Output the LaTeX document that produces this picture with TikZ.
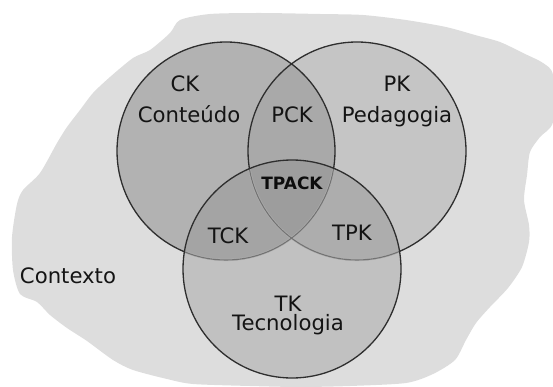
\documentclass[tikz,border=0pt]{standalone}
\usepackage{fontspec}
\setmainfont{DejaVu Sans}
\begin{document}
\begin{tikzpicture}[x=1pt,y=-1pt,
  lbl/.style={inner sep=0pt, text=black!92, font=\fontsize{21.2}{23}\selectfont},
  smalllbl/.style={inner sep=0pt, text=black!95, font=\fontsize{17}{19}\selectfont\bfseries},
  outline/.style={draw=black!82, line width=1.3pt},
  inner/.style={draw=black!55, line width=1.1pt}]
\definecolor{bgc}{HTML}{DDDDDD}
\definecolor{ckc}{HTML}{B2B2B2}
\definecolor{pkc}{HTML}{C5C5C5}
\definecolor{tkc}{HTML}{C1C1C1}
\definecolor{pckc}{HTML}{A9A9A9}
\definecolor{tckc}{HTML}{A4A4A4}
\definecolor{tpkc}{HTML}{ADADAD}
\definecolor{tpackc}{HTML}{9D9D9D}
\useasboundingbox (0,0) rectangle (553,387);
% context blob
\fill[bgc] plot[smooth cycle, tension=0.45] coordinates {
(180,20) (210,14) (260,13) (320,14) (363,15) (406,20) (446,27) (475,35)
(500,42) (523,53) (543,63) (553,75) (553,122) (540,137) (530,152) (527,175)
(524,200) (529,225) (529,242) (522,267) (508,288) (490,307) (476,323)
(466,340) (455,360) (433,374) (406,383) (350,386) (300,387) (250,386)
(193,384) (167,379) (133,370) (113,360) (87,341) (67,328) (50,315)
(37,302) (20,294) (13,270) (12,237) (17,204) (23,190) (40,173) (57,143)
(67,127) (80,110) (93,93) (110,77) (133,58) (150,50) (170,33)};
% circle centres
\coordinate (ckc) at (226,151);
\coordinate (pkc) at (357,151);
\coordinate (tkc) at (292,269);
\def\rad{109}
% single fills
\fill[ckc] (ckc) circle (\rad);
\fill[pkc] (pkc) circle (\rad);
\fill[tkc] (tkc) circle (\rad);
% pairwise
\begin{scope}\clip (ckc) circle (\rad); \fill[pckc] (pkc) circle (\rad); \end{scope}
\begin{scope}\clip (ckc) circle (\rad); \fill[tckc] (tkc) circle (\rad); \end{scope}
\begin{scope}\clip (pkc) circle (\rad); \fill[tpkc] (tkc) circle (\rad); \end{scope}
\begin{scope}\clip (ckc) circle (\rad); \clip (pkc) circle (\rad); \fill[tpackc] (tkc) circle (\rad); \end{scope}
% outlines
\draw[outline] (ckc) circle (\rad);
\draw[outline] (pkc) circle (\rad);
\begin{scope}\clip (tkc) circle (\rad);
  \draw[draw=tkc!60!tckc, line width=2.2pt] (ckc) circle (\rad);
  \draw[draw=tkc!60!tckc, line width=2.2pt] (pkc) circle (\rad);
  \draw[inner] (ckc) circle (\rad);
  \draw[inner] (pkc) circle (\rad);
\end{scope}
\draw[outline] (tkc) circle (\rad);
% labels
\node[lbl] (ck) at (185,84) {CK};
\node[lbl] (cont) at (189,114) {Conteúdo};
\node[lbl] (pk) at (397,84) {PK};
\node[lbl] (ped) at (397,117) {Pedagogia};
\node[lbl] (pck) at (292,115) {PCK};
\node[smalllbl] (tpack) at (292,183) {TPACK};
\node[lbl] (tck) at (228,236) {TCK};
\node[lbl] (tpk) at (352,233) {TPK};
\node[lbl] (tk) at (288,304) {TK};
\node[lbl] (tec) at (288,325) {Tecnologia};
\node[lbl] (ctx) at (68,276) {Contexto};
\end{tikzpicture}
\end{document}
